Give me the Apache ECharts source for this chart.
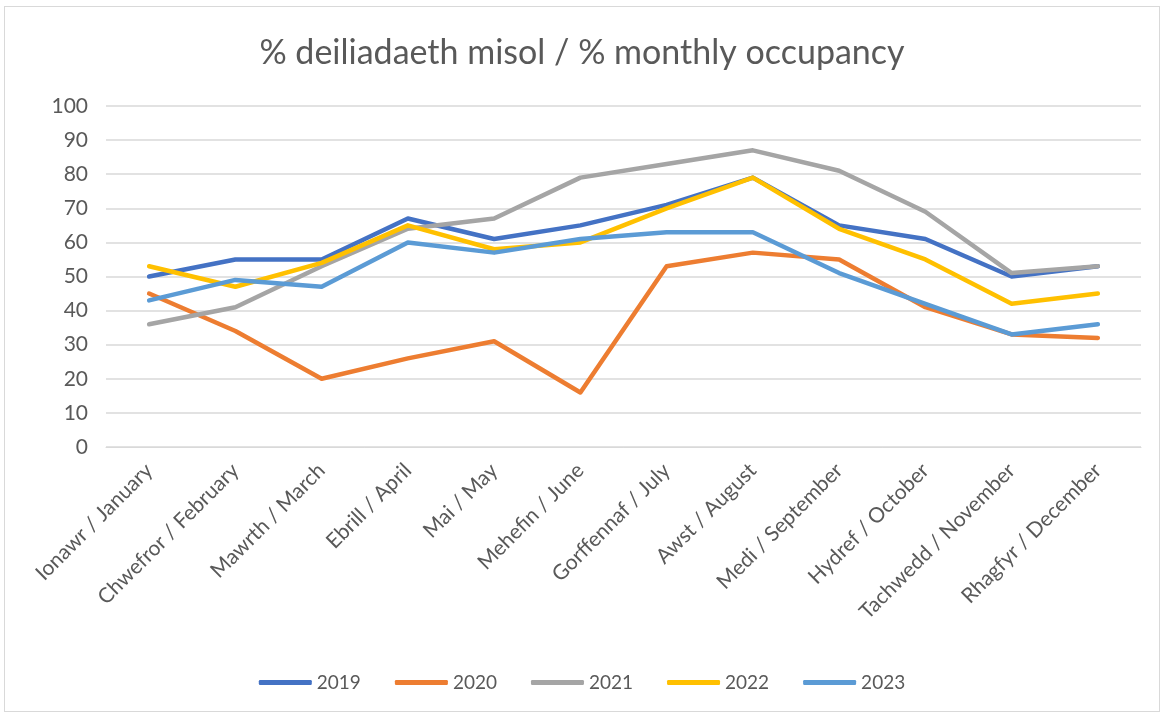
<!DOCTYPE html>
<html>
<head>
<meta charset="utf-8">
<script src="https://cdn.jsdelivr.net/npm/echarts@6/dist/echarts.min.js"></script>
<style>
  html, body { margin: 0; padding: 0; background: #fff; }
  #chart { position: absolute; left: 4px; top: 6px; width: 1156px; height: 706px; border: 1px solid #d9d9d9; box-sizing: border-box; }
</style>
</head>
<body>
<div id="chart"></div>
<script>
const months = ["Ionawr / January", "Chwefror / February", "Mawrth / March", "Ebrill / April", "Mai / May", "Mehefin / June", "Gorffennaf / July", "Awst / August", "Medi / September", "Hydref / October", "Tachwedd / November", "Rhagfyr / December"];
const years = ["2019", "2020", "2021", "2022", "2023"];
const colors = ["#4472C4", "#ED7D31", "#A5A5A5", "#FFC000", "#5B9BD5"];

const occ2019 = [50, 55, 55, 67, 61, 65, 71, 79, 65, 61, 50, 53];
const occ2020 = [45, 34, 20, 26, 31, 16, 53, 57, 55, 41, 33, 32];
const occ2021 = [36, 41, 53, 64, 67, 79, 83, 87, 81, 69, 51, 53];
const occ2022 = [53, 47, 54, 65, 58, 60, 70, 79, 64, 55, 42, 45];
const occ2023 = [43, 49, 47, 60, 57, 61, 63, 63, 51, 42, 33, 36];
const allSeries = [occ2019, occ2020, occ2021, occ2022, occ2023];

const font = "Lato, 'Open Sans', sans-serif";
const chart = echarts.init(document.getElementById("chart"));

chart.setOption({
    textStyle: { fontFamily: font },
    color: colors,
    title: {
        text: "% deiliadaeth misol / % monthly occupancy",
        left: "center",
        top: 24,
        textStyle: { fontFamily: font, fontSize: 34, fontWeight: "normal", color: "#595959" }
    },
    legend: {
        bottom: 14,
        left: "center",
        itemWidth: 53,
        itemHeight: 5,
        itemGap: 34,
        icon: "roundRect",
        textStyle: { fontFamily: font, fontSize: 19, color: "#595959" },
        data: years
    },
    grid: { left: 101, right: 18, top: 99, bottom: 264 },
    xAxis: {
        type: "category",
        data: months,
        boundaryGap: true,
        axisLine: { lineStyle: { color: "#d9d9d9" } },
        axisTick: { show: false },
        axisLabel: { rotate: 45, fontSize: 21, color: "#595959", fontFamily: font, interval: 0, margin: 20 }
    },
    yAxis: {
        type: "value",
        min: 0,
        max: 100,
        interval: 10,
        axisLine: { show: false },
        axisTick: { show: false },
        axisLabel: { fontSize: 21, color: "#595959", fontFamily: font, margin: 18 },
        splitLine: { lineStyle: { color: "#d9d9d9", width: 1.5 } }
    },
    series: years.map((y, i) => ({
        name: y,
        type: "line",
        data: allSeries[i],
        symbol: "none",
        lineStyle: { width: 4.5, cap: "round", join: "round" }
    }))
});
</script>
</body>
</html>
